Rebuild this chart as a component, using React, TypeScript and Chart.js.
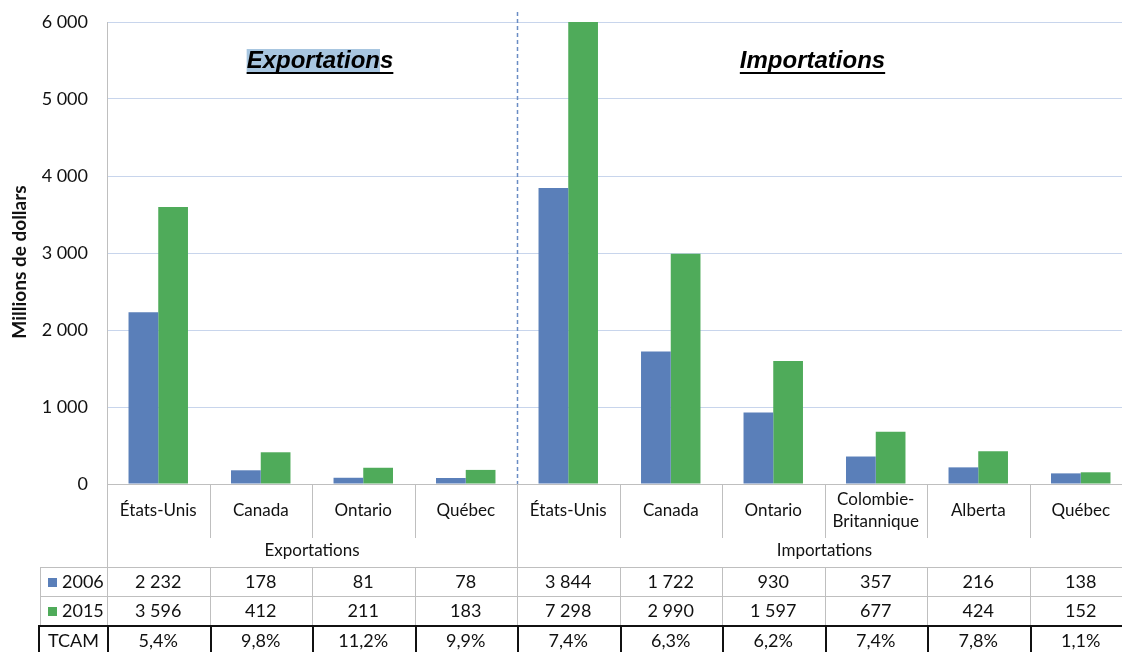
import { useEffect, useRef } from 'react';
import { Chart, registerables } from 'chart.js';

Chart.register(...registerables);

// ---------- data ----------
const categories: (string | string[])[] = [
  'États-Unis', 'Canada', 'Ontario', 'Québec',
  'États-Unis', 'Canada', 'Ontario', ['Colombie-', 'Britannique'], 'Alberta', 'Québec',
];
const groupNames = ['Exportations', 'Importations'];
const groupSizes = [4, 6];
const seriesLabels = ['2006', '2015'];
const series2006 = [2232, 178, 81, 78, 3844, 1722, 930, 357, 216, 138];
const series2015 = [3596, 412, 211, 183, 7298, 2990, 1597, 677, 424, 152];
const tcamLabel = 'TCAM';
const tcam = ['5,4%', '9,8%', '11,2%', '9,9%', '7,4%', '6,3%', '6,2%', '7,4%', '7,8%', '1,1%'];
const yMin = 0;
const yMax = 6000;
const yStep = 1000;
const yTitle = 'Millions de dollars';

// ---------- style ----------
const BLUE = '#5a7fb9';
const GREEN = '#4fab5a';
const GRID = '#c8d5ec';
const LINE = '#bfbfbf';
const TEXT = '#111111';
const FONT = 'Lato, "Liberation Sans", sans-serif';

const fmt = (v: number) => String(v).replace(/\B(?=(\d{3})+(?!\d))/g, ' ');

const tablePlugin = {
  id: 'tableLayer',
  afterDraw(chart: any) {
    const ctx: CanvasRenderingContext2D = chart.ctx;
    const xs = chart.scales.x;
    const ys = chart.scales.y;
    const area = chart.chartArea;
    const n = categories.length;
    const half = (xs.getPixelForValue(1) - xs.getPixelForValue(0)) / 2;
    const edge = (i: number) => xs.getPixelForValue(i) - half;
    const base = ys.getPixelForValue(0);

    const labelRowBottom = base + 54;
    const groupRowY = base + 67;
    const tableTop = base + 83;
    const rowH = 29;
    const tableLeft = 40;

    ctx.save();

    // dashed divider between groups
    const divX = Math.round(edge(groupSizes[0])) + 0.5;
    ctx.strokeStyle = '#6a8cc4';
    ctx.lineWidth = 1.5;
    ctx.setLineDash([4, 3]);
    ctx.beginPath();
    ctx.moveTo(divX, area.top - 10);
    ctx.lineTo(divX, base);
    ctx.stroke();
    ctx.setLineDash([]);

    // baseline + axis line extension
    ctx.strokeStyle = LINE;
    ctx.lineWidth = 1;
    ctx.beginPath();
    ctx.moveTo(area.left, Math.round(base) + 0.5);
    ctx.lineTo(area.right, Math.round(base) + 0.5);
    const ax = Math.round(area.left) + 0.5;
    ctx.moveTo(ax, base);
    ctx.lineTo(ax, tableTop + 2 * rowH);
    ctx.stroke();

    // category separators in label row
    ctx.beginPath();
    for (let i = 1; i < n; i++) {
      const x = Math.round(edge(i)) + 0.5;
      if (i === groupSizes[0]) {
        ctx.moveTo(x, base);
        ctx.lineTo(x, tableTop);
      } else {
        ctx.moveTo(x, base);
        ctx.lineTo(x, labelRowBottom);
      }
    }
    ctx.stroke();

    // category labels
    ctx.fillStyle = TEXT;
    ctx.font = `17px ${FONT}`;
    ctx.textAlign = 'center';
    ctx.textBaseline = 'middle';
    categories.forEach((c, i) => {
      const cx = xs.getPixelForValue(i);
      const lines = Array.isArray(c) ? c : [c];
      const lh = 22;
      lines.forEach((l, k) => {
        ctx.fillText(l, cx, base + 27 + (k - (lines.length - 1) / 2) * lh);
      });
    });

    // group labels
    let start = 0;
    groupNames.forEach((g, gi) => {
      const x0 = edge(start);
      const x1 = edge(start + groupSizes[gi]);
      ctx.fillText(g, (x0 + x1) / 2, groupRowY);
      start += groupSizes[gi];
    });

    // table grid (gray rows)
    ctx.strokeStyle = LINE;
    ctx.lineWidth = 1;
    ctx.beginPath();
    for (let r = 0; r < 2; r++) {
      const y = Math.round(tableTop + r * rowH) + 0.5;
      ctx.moveTo(tableLeft, y);
      ctx.lineTo(area.right, y);
    }
    const tl = tableLeft + 0.5;
    ctx.moveTo(tl, tableTop);
    ctx.lineTo(tl, tableTop + 2 * rowH);
    for (let i = 1; i <= n; i++) {
      const x = Math.round(edge(i)) + 0.5;
      ctx.moveTo(x, tableTop);
      ctx.lineTo(x, tableTop + 2 * rowH);
    }
    ctx.stroke();

    // TCAM row (black)
    const tTop = tableTop + 2 * rowH;
    ctx.strokeStyle = '#111';
    ctx.lineWidth = 2;
    ctx.beginPath();
    ctx.moveTo(tableLeft - 2, tTop + 1);
    ctx.lineTo(area.right, tTop + 1);
    ctx.moveTo(tableLeft - 1, tTop);
    ctx.lineTo(tableLeft - 1, tTop + rowH + 5);
    ctx.moveTo(area.left + 1, tTop);
    ctx.lineTo(area.left + 1, tTop + rowH + 5);
    for (let i = 1; i <= n; i++) {
      const x = Math.round(edge(i)) + 1;
      ctx.moveTo(x, tTop);
      ctx.lineTo(x, tTop + rowH + 5);
    }
    ctx.stroke();

    // legend keys + row labels
    const rowData = [series2006, series2015];
    const rowColors = [BLUE, GREEN];
    ctx.font = `18px ${FONT}`;
    rowData.forEach((arr, r) => {
      const cy = tableTop + r * rowH + rowH / 2 + 1;
      ctx.fillStyle = rowColors[r];
      ctx.fillRect(48, cy - 4.5, 9, 9);
      ctx.fillStyle = TEXT;
      ctx.textAlign = 'left';
      ctx.fillText(seriesLabels[r], 62, cy);
      ctx.textAlign = 'center';
      arr.forEach((v, i) => {
        ctx.fillText(fmt(v), xs.getPixelForValue(i), cy);
      });
    });
    const tcy = tTop + rowH / 2 + 2;
    ctx.fillText(tcamLabel, (tableLeft + area.left) / 2, tcy);
    tcam.forEach((t, i) => ctx.fillText(t, xs.getPixelForValue(i), tcy));

    // y-axis title
    ctx.save();
    ctx.translate(20, 262);
    ctx.rotate(-Math.PI / 2);
    ctx.font = `bold 19px ${FONT}`;
    ctx.textAlign = 'center';
    ctx.textBaseline = 'middle';
    ctx.fillStyle = '#111';
    ctx.fillText(yTitle, 0, 0);
    ctx.restore();

    // section titles
    const titleY = 61;
    const drawTitle = (text: string, cx: number, hl: string | null) => {
      ctx.font = 'italic bold 24px "Liberation Sans", Arial, sans-serif';
      const w = ctx.measureText(text).width;
      const x0 = cx - w / 2;
      if (hl) {
        const hw = ctx.measureText(hl).width;
        ctx.fillStyle = '#a8c6e0';
        ctx.fillRect(x0, titleY - 12, hw, 25);
      }
      ctx.fillStyle = '#000';
      ctx.textAlign = 'left';
      ctx.textBaseline = 'middle';
      ctx.fillText(text, x0, titleY);
      ctx.fillRect(x0, titleY + 11, w, 2);
    };
    drawTitle(groupNames[0], edge(2) + 8, groupNames[0].slice(0, -1));
    drawTitle(groupNames[1], (edge(groupSizes[0]) + edge(n)) / 2 - 12, null);

    ctx.restore();
  },
};

export default function App() {
  const ref = useRef<HTMLCanvasElement | null>(null);

  useEffect(() => {
    if (!ref.current) return;
    const chart = new Chart(ref.current, {
      type: 'bar',
      data: {
        labels: categories.map((c) => (Array.isArray(c) ? c.join(' ') : c)),
        datasets: [
          { label: seriesLabels[0], data: series2006, backgroundColor: BLUE },
          { label: seriesLabels[1], data: series2015, backgroundColor: GREEN },
        ],
      },
      options: {
        responsive: false,
        animation: false,
        devicePixelRatio: 1,
        layout: { padding: { top: 22, bottom: 168, left: 0, right: 0 } },
        datasets: { bar: { barPercentage: 1, categoryPercentage: 0.58, clip: 0 } as any },
        plugins: { legend: { display: false }, tooltip: { enabled: false }, title: { display: false } },
        scales: {
          x: { display: false },
          y: {
            min: yMin,
            max: yMax,
            afterFit: (s: any) => { s.width = 107; },
            ticks: {
              stepSize: yStep,
              padding: 0,
              color: TEXT,
              font: { family: FONT, size: 18 },
              callback: (v: any) => fmt(Number(v)),
            },
            grid: { color: GRID, lineWidth: 1, drawTicks: true, tickLength: 19, tickColor: 'rgba(0,0,0,0)' },
            border: { display: true, color: LINE },
          },
        },
      },
      plugins: [tablePlugin],
    });
    return () => chart.destroy();
  }, []);

  return (
    <div style={{ position: 'fixed', left: 0, top: 0, width: 1122, height: 652, overflow: 'hidden', background: '#fff' }}>
      <canvas ref={ref} width={1132} height={652} style={{ display: 'block' }} />
    </div>
  );
}
